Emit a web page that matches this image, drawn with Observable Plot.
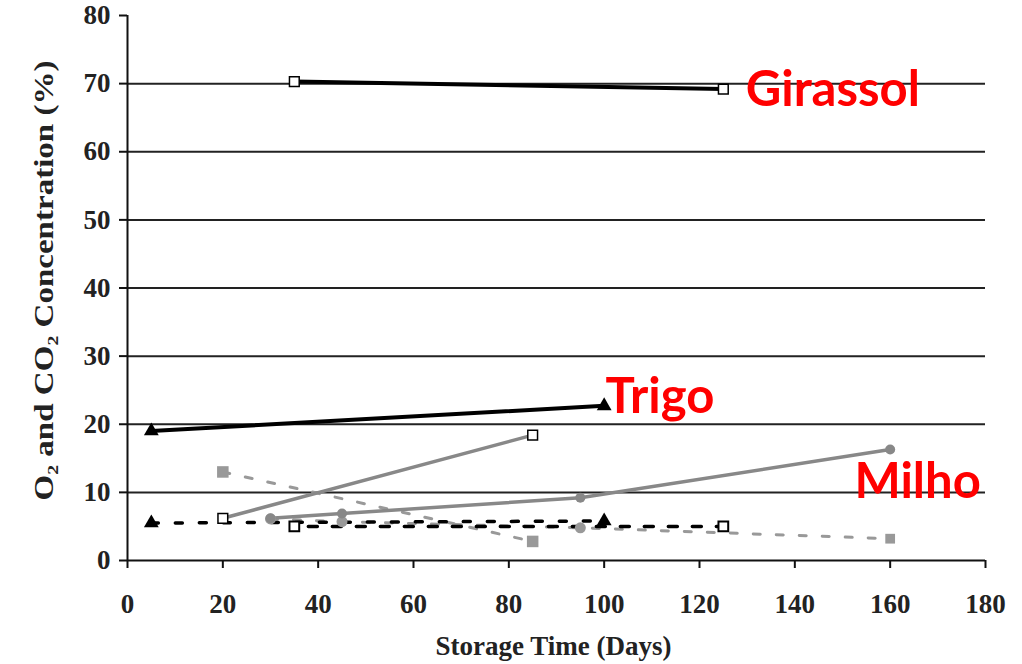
<!DOCTYPE html>
<html><head><meta charset="utf-8">
<script src="https://cdn.jsdelivr.net/npm/d3@7"></script>
<script src="https://cdn.jsdelivr.net/npm/@observablehq/plot@0.6"></script>
<style>body{margin:0;background:#fff}</style>
</head><body><div id="chart"></div>
<script>
// ---- axis ticks ----
const xTicks = [0, 20, 40, 60, 80, 100, 120, 140, 160, 180];
const yTicks = [0, 10, 20, 30, 40, 50, 60, 70, 80];
const gridValues = [10, 20, 30, 40, 50, 60, 70];
const xTitle = "Storage Time (Days)";
const yTitle = "O₂ and CO₂ Concentration (%)";

// ---- series (storage day, concentration %) ----
const girassolDays = [35, 125];
const girassolSolid = [70.3, 69.2];
const girassolDashed = [5.0, 5.0];

const trigoDays = [5, 100];
const trigoSolid = [19.0, 22.7];
const trigoDashed = [5.5, 5.8];

const grayDays = [20, 85];
const graySolid = [6.2, 18.4];
const grayDashedDays = [20, 85];
const grayDashed = [13.0, 2.8];

const milhoDays = [30, 45, 95, 160];
const milhoSolid = [6.2, 6.9, 9.2, 16.3];
const milhoDotted = [6.1, 5.7, 4.8, 3.2];
const milhoDottedSymbols = ["circle", "circle", "circle", "square"];

// ---- annotations ----
const labelNames = ["Girassol", "Trigo", "Milho"];
const labelDays = [129.7, 100.3, 152.5];
const labelValues = [69.0, 23.9, 11.5];

const rows = (days, vals) => days.map((d, i) => ({day: d, value: vals[i]}));
const labels = labelNames.map((n, i) => ({name: n, day: labelDays[i], value: labelValues[i]}));
const milhoDottedRows = milhoDays.map((d, i) => ({day: d, value: milhoDotted[i], symbol: milhoDottedSymbols[i]}));

const chart = Plot.plot({
  width: 1022, height: 664,
  marginLeft: 127, marginRight: 37, marginTop: 15, marginBottom: 104,
  x: {domain: [0, 180]},
  y: {domain: [0, 80]},
  symbol: {type: "identity"},
  style: {fontFamily: "Liberation Serif", fontWeight: "bold", fontSize: "27px", color: "#222", background: "white", overflow: "visible"},
  marks: [
    Plot.ruleY(gridValues, {stroke: "#222", strokeWidth: 2}),
    Plot.axisX({ticks: xTicks, tickSize: 8, tickPadding: 25, label: null, strokeWidth: 2, stroke: "#111", fill: "#222"}),
    Plot.axisY({ticks: yTicks, tickSize: 8, tickPadding: 9, label: null, strokeWidth: 2, stroke: "#111", fill: "#222"}),
    Plot.ruleX([0], {stroke: "#111", strokeWidth: 2}),
    Plot.ruleY([0], {stroke: "#111", strokeWidth: 2}),

    // dashed / dotted series
    Plot.line(rows(grayDashedDays, grayDashed), {x: "day", y: "value", stroke: "#999", strokeWidth: 3, strokeDasharray: "7,16"}),
    Plot.line(milhoDottedRows, {x: "day", y: "value", stroke: "#999", strokeWidth: 3, strokeDasharray: "7,16"}),
    Plot.line(rows(trigoDays, trigoDashed), {x: "day", y: "value", stroke: "black", strokeWidth: 3.5, strokeDasharray: "7,17"}),
    Plot.line(rows(girassolDays, girassolDashed), {x: "day", y: "value", stroke: "black", strokeWidth: 3.5, strokeDasharray: "9,15", strokeDashoffset: 10}),

    // solid series
    Plot.line(rows(girassolDays, girassolSolid), {x: "day", y: "value", stroke: "black", strokeWidth: 4}),
    Plot.line(rows(trigoDays, trigoSolid), {x: "day", y: "value", stroke: "black", strokeWidth: 4}),
    Plot.line(rows(grayDays, graySolid), {x: "day", y: "value", stroke: "#888", strokeWidth: 3.5}),
    Plot.line(rows(milhoDays, milhoSolid), {x: "day", y: "value", stroke: "#888", strokeWidth: 3.5}),

    // markers
    Plot.dot(rows(grayDashedDays, grayDashed), {x: "day", y: "value", symbol: "square", r: 6.5, fill: "#999", stroke: "none"}),
    Plot.dot(milhoDottedRows, {x: "day", y: "value", symbol: "symbol", r: 5.5, fill: "#999", stroke: "none"}),
    Plot.dot(rows(milhoDays, milhoSolid), {x: "day", y: "value", symbol: "circle", r: 5, fill: "#888", stroke: "none"}),
    Plot.dot(rows(trigoDays, trigoDashed), {x: "day", y: "value", symbol: "triangle", r: 5.5, fill: "black", stroke: "none"}),
    Plot.dot(rows(trigoDays, trigoSolid), {x: "day", y: "value", symbol: "triangle", r: 5.5, fill: "black", stroke: "none"}),
    Plot.dot(rows(girassolDays, girassolSolid), {x: "day", y: "value", symbol: "square", r: 5.5, fill: "white", stroke: "black", strokeWidth: 1.5}),
    Plot.dot(rows(girassolDays, girassolDashed), {x: "day", y: "value", symbol: "square", r: 5.5, fill: "white", stroke: "black", strokeWidth: 2}),
    Plot.dot(rows(grayDays, graySolid), {x: "day", y: "value", symbol: "square", r: 5.5, fill: "white", stroke: "black", strokeWidth: 1.5}),

    // red labels
    Plot.text(labels, {x: "day", y: "value", text: "name", textAnchor: "start", fill: "red", fontSize: 49, fontWeight: "bold", fontFamily: "Lato"}),

    // axis titles
    Plot.text([xTitle], {frameAnchor: "bottom", lineAnchor: "middle", dy: 86, dx: -3, text: d => d, fontSize: 27, fill: "#222"}),
    Plot.text([yTitle], {frameAnchor: "bottom-left", lineAnchor: "middle", textAnchor: "start", dx: -83, dy: -60, rotate: -90, text: d => d, fontSize: 27, fill: "#222"})
  ]
});
document.getElementById("chart").appendChild(chart);
d3.select(chart).selectAll("text").filter(function(){ return this.textContent === yTitle; })
  .attr("textLength", 440).attr("lengthAdjust", "spacingAndGlyphs");
</script>
</body></html>
